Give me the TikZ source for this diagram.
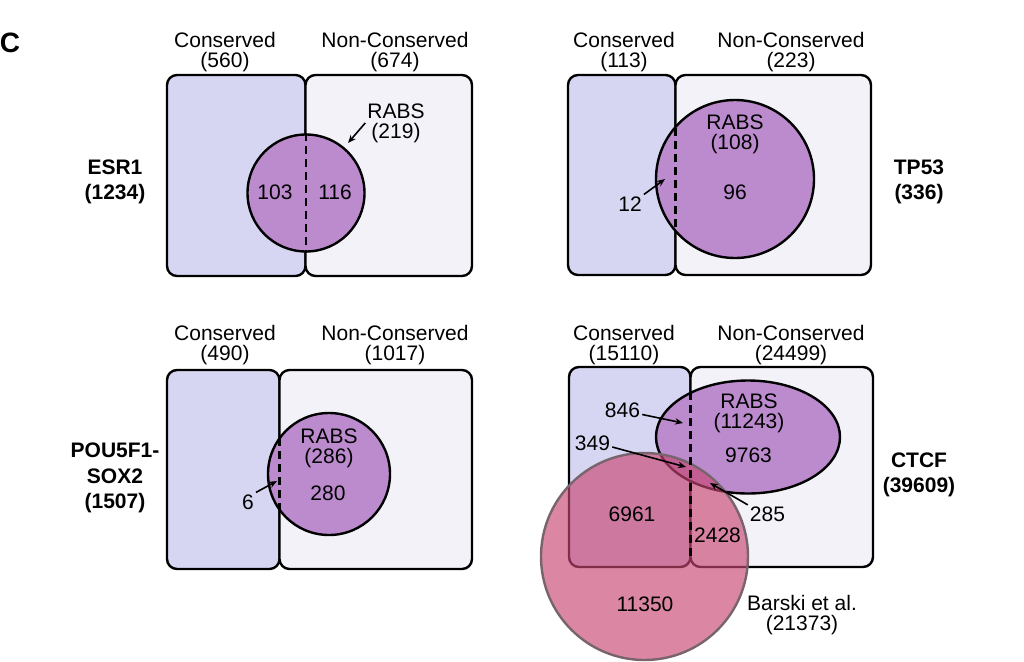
\documentclass[tikz,border=0pt]{standalone}
\usepackage{fontspec}
\setmainfont{Liberation Sans}
\usepackage{tikz}
\usetikzlibrary{arrows.meta, positioning, shapes.geometric}

\definecolor{consfill}{RGB}{214,214,242}
\definecolor{nonconsfill}{RGB}{243,242,248}
\definecolor{rabsfill}{RGB}{188,139,206}
\definecolor{barskifill}{RGB}{200,70,115}
\definecolor{barskiline}{RGB}{120,100,108}

\tikzset{
	txt/.style={font=\fontsize{21}{20}\selectfont, align=center, inner sep=1pt},
	tfname/.style={font=\bfseries\fontsize{21}{25.5}\selectfont, align=center, inner sep=1pt},
	consbox/.style={draw=black, fill=consfill, rounded corners=10pt},
	nonconsbox/.style={draw=black, fill=nonconsfill, rounded corners=10pt},
	rabs/.style={draw=black, fill=rabsfill, inner sep=0pt},
	barski/.style={circle, draw=barskiline, fill=barskifill, fill opacity=0.65, inner sep=0pt},
	split/.style={dash pattern=on 8pt off 5pt, line width=2.2pt},
	pointer/.style={-{Stealth[length=8pt, width=6.5pt]}, line width=1.6pt},
}

\begin{document}
\begin{tikzpicture}[x=1pt, y=-1pt, line width=2.4pt]
	\useasboundingbox (0,0) rectangle (1024,661);

	\node[font=\bfseries\fontsize{28}{28}\selectfont, inner sep=0pt] (panel) at (10,43) {C};

	% boxes and headers of the four panels
	\foreach \xl/\xm/\xr/\yt/\yb/\cx/\nx/\hy/\cn/\nn in {
		167/305.5/472/75/276/225/395/52/560/674,
		568/675.5/871/75/275/624/791/52/113/223,
		167/279.5/472/370/569/225/395/345/490/1017,
		569/690.5/873/367/567/624/791/345/15110/24499}
	{
		\draw[consbox] (\xl,\yt) rectangle (\xm,\yb);
		\draw[nonconsbox] (\xm,\yt) rectangle (\xr,\yb);
		\node[txt] (cons\cn) at (\cx,\hy) {Conserved\\(\cn)};
		\node[txt] (noncons\nn) at (\nx,\hy) {Non-Conserved\\(\nn)};
	}

	% ESR1
	\node[rabs, circle, minimum size=117pt] (rabsA) at (306,193) {};
	\draw[split] (rabsA.north) -- (rabsA.south);
	\node[txt] (lblA) at (396,123) {RABS\\(219)};
	\coordinate (tipA) at (348,143);
	\draw[pointer] (lblA.west) -- (tipA);
	\node[txt] (n103) at (275,192) {103};
	\node[txt] (n116) at (335,192) {116};
	\node[tfname] (esr) at (115,182) {ESR1\\(1234)};

	% TP53
	\node[rabs, circle, minimum size=158pt] (rabsB) at (735,179) {};
	\draw[split] (675.5,128) -- (675.5,230);
	\node[txt] (lblB) at (735,134.5) {RABS\\(108)};
	\node[txt] (n96) at (735,192.5) {96};
	\node[txt] (n12) at (630,204) {12};
	\coordinate (tipB) at (665,179);
	\draw[pointer] (n12.north east) -- (tipB);
	\node[tfname] (tp) at (919,182) {TP53\\(336)};

	% POU5F1-SOX2
	\node[rabs, circle, minimum size=122pt] (rabsC) at (329,474) {};
	\draw[split] (279.5,438) -- (279.5,510);
	\node[txt] (lblC) at (329,448.5) {RABS\\(286)};
	\node[txt] (n280) at (328,493) {280};
	\node[txt] (n6) at (248,502) {6};
	\coordinate (tipC) at (277,481);
	\draw[pointer] (n6.north east) -- (tipC);
	\node[tfname] (pou) at (115,478) {POU5F1-\\SOX2\\(1507)};

	% CTCF
	\node[rabs, ellipse, minimum width=184pt, minimum height=113pt] (rabsD) at (748,437) {};
	\node[barski, minimum size=207pt] (barski) at (644.5,556.5) {};
	\draw[split] (690.5,392) -- (690.5,557);
	\node[txt] (lblD) at (749,413.5) {RABS\\(11243)};
	\node[txt] (n9763) at (748.5,455.5) {9763};
	\node[txt] (n846) at (622.5,410.5) {846};
	\node[txt] (n349) at (592.5,443) {349};
	\node[txt] (n285) at (767.5,514.5) {285};
	\node[txt] (n6961) at (632,514) {6961};
	\node[txt] (n2428) at (717.5,535.5) {2428};
	\node[txt] (n11350) at (645,604.5) {11350};
	\node[txt] (lblE) at (802,615.5) {Barski et al.\\(21373)};
	\coordinate (tip846) at (683,423);
	\coordinate (tip349) at (686,467);
	\coordinate (tip285) at (710,483);
	\draw[pointer] ([yshift=-4pt]n846.east) -- (tip846);
	\draw[pointer] ([yshift=-4pt]n349.east) -- (tip349);
	\draw[pointer] (n285.north west) -- (tip285);
	\node[tfname] (ctcf) at (919,475) {CTCF\\(39609)};
\end{tikzpicture}
\end{document}
